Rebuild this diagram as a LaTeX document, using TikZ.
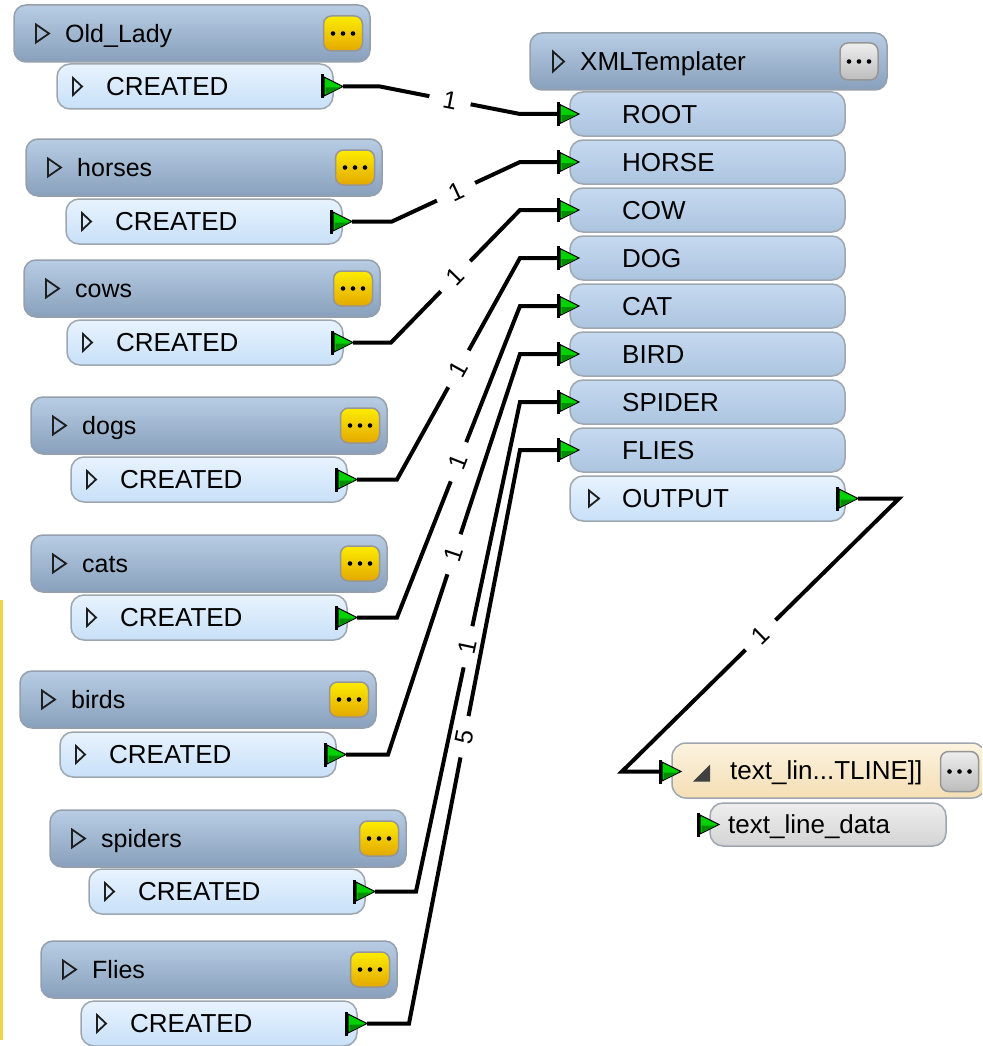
\documentclass[tikz,border=0pt]{standalone}
\usepackage{fontspec}
\setmainfont{Liberation Sans}
\usetikzlibrary{calc}
\definecolor{hdrTop}{RGB}{184,205,228}
\definecolor{hdrBot}{RGB}{136,160,188}
\definecolor{hdrLine}{RGB}{150,160,172}
\definecolor{inTop}{RGB}{198,218,240}
\definecolor{inBot}{RGB}{172,196,224}
\definecolor{outTop}{RGB}{232,243,254}
\definecolor{outBot}{RGB}{200,224,248}
\definecolor{boxLine}{RGB}{158,166,176}
\definecolor{btnLine}{RGB}{150,150,150}
\definecolor{yelTop}{RGB}{252,236,0}
\definecolor{yelBot}{RGB}{228,168,0}
\definecolor{gryTop}{RGB}{238,238,238}
\definecolor{gryBot}{RGB}{188,188,188}
\definecolor{begTop}{RGB}{252,243,224}
\definecolor{begBot}{RGB}{244,222,180}
\definecolor{dtaTop}{RGB}{238,238,238}
\definecolor{dtaBot}{RGB}{212,212,212}
\definecolor{portG}{RGB}{0,210,0}
\definecolor{portD}{RGB}{0,140,0}
\definecolor{triCol}{RGB}{30,30,30}
\definecolor{strip}{RGB}{236,214,70}
\tikzset{
  hdr/.style={draw=hdrLine, line width=1.5pt, rounded corners=12pt, top color=hdrTop, bottom color=hdrBot,
    minimum height=57pt, anchor=north west, inner sep=0pt, outer sep=0pt},
  created/.style={draw=boxLine, line width=1.5pt, rounded corners=13pt, top color=outTop, bottom color=outBot,
    minimum width=276pt, minimum height=45pt, anchor=north west, inner sep=0pt, outer sep=0pt},
  inbox/.style={draw=boxLine, line width=1.5pt, rounded corners=13pt, top color=inTop, bottom color=inBot,
    minimum width=275pt, minimum height=44pt, anchor=north west, inner sep=0pt, outer sep=0pt},
  ybtn/.style={draw=btnLine, line width=1.5pt, rounded corners=8pt, top color=yelTop, bottom color=yelBot,
    minimum width=39pt, minimum height=35pt, inner sep=0pt},
  gbtn/.style={draw=btnLine, line width=1.5pt, rounded corners=8pt, top color=gryTop, bottom color=gryBot,
    minimum width=38pt, minimum height=37pt, inner sep=0pt},
  beige/.style={draw=boxLine, line width=1.5pt, rounded corners=14pt, top color=begTop, bottom color=begBot,
    minimum width=314pt, minimum height=55pt, anchor=north west, inner sep=0pt, outer sep=0pt},
  databox/.style={draw=boxLine, line width=1.5pt, rounded corners=13pt, top color=dtaTop, bottom color=dtaBot,
    minimum width=236pt, minimum height=43pt, anchor=north west, inner sep=0pt, outer sep=0pt},
  tri/.style={draw=triCol, line width=1.8pt, line join=miter},
  txt/.style={font=\fontsize{26}{29}\selectfont, inner sep=0pt, anchor=base west},
  htxt/.style={font=\fontsize{25}{28}\selectfont, inner sep=0pt, anchor=base west},
  wire/.style={line width=4pt, black, line join=miter},
  lab/.style={sloped, fill=white, inner xsep=14pt, inner ysep=1pt, font=\fontsize{25}{28}\selectfont},
}
% header + CREATED pair: name, hx, hy, label, cx, cy
\newcommand\srcpair[6]{%
  \node[hdr, minimum width=356pt] (#1) at (#2,#3) {};
  \node[htxt] (#1T) at ($(#1.west)+(51,8.8)$) {#4};
  \draw[tri] ($(#1.west)+(22,-9)$) -- ++(13,9) -- ++(-13,9) -- cycle;
  \node[ybtn] (#1B) at ($(#1.east)+(-27,0)$) {};
  \foreach \d in {-10,0,10} \fill ($(#1B.center)+(\d,0)$) circle (2.3pt);
  \node[created] (#1C) at (#5,#6) {};
  \draw[tri] ($(#1C.west)+(16,-8.5)$) -- ++(9,8.5) -- ++(-9,8.5) -- cycle;
  \node[txt] (#1CT) at ($(#1C.west)+(49,9.3)$) {CREATED};
  \coordinate (#1P) at ($(#1C.east)+(-11,0)$);
  \coordinate (#1O) at ($(#1C.east)+(10,0)$);
}
% XMLTemplater input port: name, top, label
\newcommand\inport[3]{%
  \node[inbox] (#1) at (570,#2) {};
  \node[txt] (#1T) at ($(#1.west)+(52,9.3)$) {#3};
  \coordinate (i#1) at ($(#1.west)+(-12,0)$);
}
\newcommand\portat[1]{%
  \fill[black] ($(#1)+(-1.5,-12)$) rectangle ($(#1)+(2,12)$);
  \filldraw[draw=black, line width=1pt, fill=portG] ($(#1)+(2,-9.5)$) -- ($(#1)+(21,0)$) -- ($(#1)+(2,9.5)$) -- cycle;
  \fill[portD] ($(#1)+(3.5,1)$) -- ($(#1)+(18.5,1)$) -- ($(#1)+(3.5,8)$) -- cycle;
}
\begin{document}
\begin{tikzpicture}[x=1pt,y=-1pt]
\useasboundingbox (0,0) rectangle (982,1046);
\clip (0,0) rectangle (982,1046);
\fill[white] (0,0) rectangle (982,1046);
\fill[strip] (0,600) rectangle (3,1040);

% sources
\srcpair{old}{14}{5}{Old\_Lady}{57}{64}
\srcpair{hor}{26}{139}{horses}{66}{199}
\srcpair{cow}{24}{260}{cows}{67}{320}
\srcpair{dog}{31}{397}{dogs}{71}{457}
\srcpair{cat}{31}{535}{cats}{71}{595}
\srcpair{bir}{20}{671}{birds}{60}{732}
\srcpair{spi}{50}{810}{spiders}{89}{869}
\srcpair{fli}{41}{941}{Flies}{81}{1001}

% XMLTemplater
\node[hdr, minimum width=357pt] (xml) at (530,33) {};
\node[htxt, font=\fontsize{26}{29}\selectfont] (xmlT) at ($(xml.west)+(50,9.3)$) {XMLTemplater};
\draw[tri] ($(xml.west)+(23,-10)$) -- ++(11,10) -- ++(-11,10) -- cycle;
\node[gbtn] (xmlB) at ($(xml.east)+(-28,0)$) {};
\foreach \d in {-10,0,10} \fill ($(xmlB.center)+(\d,0)$) circle (2.3pt);
\inport{Root}{92}{ROOT}
\inport{Horse}{140}{HORSE}
\inport{Cow}{188}{COW}
\inport{Dog}{236}{DOG}
\inport{Cat}{284}{CAT}
\inport{Bird}{332}{BIRD}
\inport{Spider}{380}{SPIDER}
\inport{Flies}{428}{FLIES}
\node[created, minimum width=275pt] (out) at (570,476) {};
\draw[tri] ($(out.west)+(19,-8)$) -- ++(10,8) -- ++(-10,8) -- cycle;
\node[txt] (outT) at ($(out.west)+(52,9.3)$) {OUTPUT};
\coordinate (outP) at ($(out.east)+(-8,0)$);
\coordinate (outO) at ($(out.east)+(13,0)$);

% text_line
\node[beige] (tl) at (672,743) {};
\node[txt] (tlT) at ($(tl.west)+(58,9.3)$) {text\_lin...TLINE]]};
\fill[triCol!85] ($(tl.west)+(38,-6)$) -- ($(tl.west)+(38,11)$) -- ($(tl.west)+(21,11)$) -- cycle;
\node[gbtn, minimum height=40pt] (tlB) at ($(tl.east)+(-26.5,1)$) {};
\foreach \d in {-10,0,10} \fill ($(tlB.center)+(\d,0)$) circle (2.3pt);
\coordinate (iTl) at ($(tl.west)+(-12,1)$);
\node[databox] (tld) at (710,803) {};
\node[txt] (tldT) at ($(tld.west)+(18,9.3)$) {text\_line\_data};
\coordinate (iTld) at ($(tld.west)+(-12,0)$);

% wires
\draw[wire] (oldO) -- ++(37,0) -- node[lab]{1} ($(iRoot)+(-38,0)$) -- (iRoot);
\draw[wire] (horO) -- ++(40,0) -- node[lab]{1} ($(iHorse)+(-38,0)$) -- (iHorse);
\draw[wire] (cowO) -- ++(38,0) -- node[lab]{1} ($(iCow)+(-38,0)$) -- (iCow);
\draw[wire] (dogO) -- ++(40,0) -- node[lab]{1} ($(iDog)+(-38,0)$) -- (iDog);
\draw[wire] (catO) -- ++(40,0) -- node[lab]{1} ($(iCat)+(-38,0)$) -- (iCat);
\draw[wire] (birO) -- ++(42,0) -- node[lab]{1} ($(iBird)+(-38,0)$) -- (iBird);
\draw[wire] (spiO) -- ++(41,0) -- node[lab]{1} ($(iSpider)+(-38,0)$) -- (iSpider);
\draw[wire] (fliO) -- ++(42,0) -- node[lab]{5} ($(iFlies)+(-38,0)$) -- (iFlies);
\draw[wire] (outO) -- ++(41,0) -- node[lab]{1} ($(iTl)+(-38,0)$) -- (iTl);

% ports
\foreach \p in {oldP,horP,cowP,dogP,catP,birP,spiP,fliP,iRoot,iHorse,iCow,iDog,iCat,iBird,iSpider,iFlies,outP,iTl,iTld}
  {\portat{\p}}
\end{tikzpicture}
\end{document}
